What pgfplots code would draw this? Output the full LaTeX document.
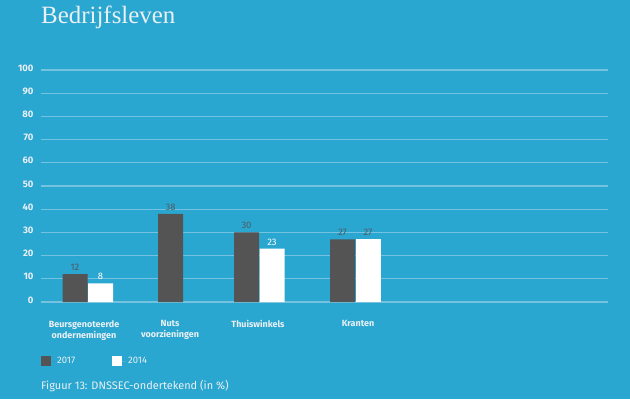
\documentclass[border=0pt]{standalone}
\usepackage{pgfplots}
\pgfplotsset{compat=1.18}
\usepackage{fontspec}
\setmainfont{Fira Sans}
\newfontfamily\titlefont{Liberation Serif}
\definecolor{bg}{HTML}{2AA7D1}
\definecolor{bardark}{HTML}{545454}
\definecolor{gridc}{HTML}{74C2DF}
\definecolor{txt}{HTML}{EAF0F3}
\definecolor{lab}{HTML}{505A60}
\begin{document}
\begin{tikzpicture}[x=1bp,y=1bp]
\fill[bg] (0,0) rectangle (630,-399);
\path[use as bounding box] (0,0) rectangle (630,-399);
\node[anchor=base west, inner sep=0, text=txt, font=\titlefont\fontsize{25}{25}\selectfont] at (41,-23) {Bedrijfsleven};
\begin{axis}[
  at={(41bp,-302bp)}, anchor=south west,
  scale only axis, width=567bp, height=232bp,
  xmin=41, xmax=608, ymin=0, ymax=100,
  clip=false,
  /pgf/number format/assume math mode=true,
  axis line style={draw=none},
  major tick length=0pt,
  ytick={0,10,...,100},
  ymajorgrids,
  grid style={gridc, line width=1.3bp},
  xtick={84,170,258,358},
  xticklabels={{Beursgenoteerde\\ondernemingen},{Nuts\\voorzieningen},{Thuiswinkels},{Kranten}},
  xticklabel style={align=center, font=\bfseries\fontsize{9}{11}\selectfont, text=txt, anchor=north, yshift=-15bp},
  yticklabel style={text=txt, font=\bfseries\fontsize{9.5}{10}\selectfont, anchor=east, xshift=-4bp, yshift=2bp},
  legend style={at={(0,-0.228)}, anchor=north west, draw=none, fill=none, inner sep=0pt,
    legend columns=2, font=\fontsize{9.5}{11}\selectfont, text=txt,
    /tikz/every even column/.append style={column sep=35bp}},
  legend cell align=left,
  nodes near coords,
  every node near coord/.append style={font=\fontsize{9.5}{11}\selectfont},
]
\addplot[ybar, bar width=25, bar shift=0pt, fill=bardark, draw=none,
  every node near coord/.append style={text=lab},
  legend image code/.code={\fill[bardark] (0bp,-5bp) rectangle (10bp,5bp); \path (0bp,0bp) -- (14bp,0bp);}]
  coordinates {(75,12) (170.5,38) (246.5,30) (342.5,27)};
\addlegendentry{2017}
\addplot[ybar, bar width=25, bar shift=0pt, fill=white, draw=none,
  every node near coord/.append style={text=white},
  legend image code/.code={\fill[white] (0bp,-5bp) rectangle (10bp,5bp); \path (0bp,0bp) -- (14bp,0bp);}]
  coordinates {(100.5,8) (272,23)};
\addlegendentry{2014}
\addplot[ybar, bar width=25, bar shift=0pt, fill=white, draw=none, forget plot,
  every node near coord/.append style={text=lab}]
  coordinates {(368,27)};
\end{axis}
\node[anchor=base west, inner sep=0, text=txt, font=\fontsize{11}{13}\selectfont] at (41,-389) {Figuur 13: DNSSEC-ondertekend (in \%)};
\end{tikzpicture}
\end{document}
